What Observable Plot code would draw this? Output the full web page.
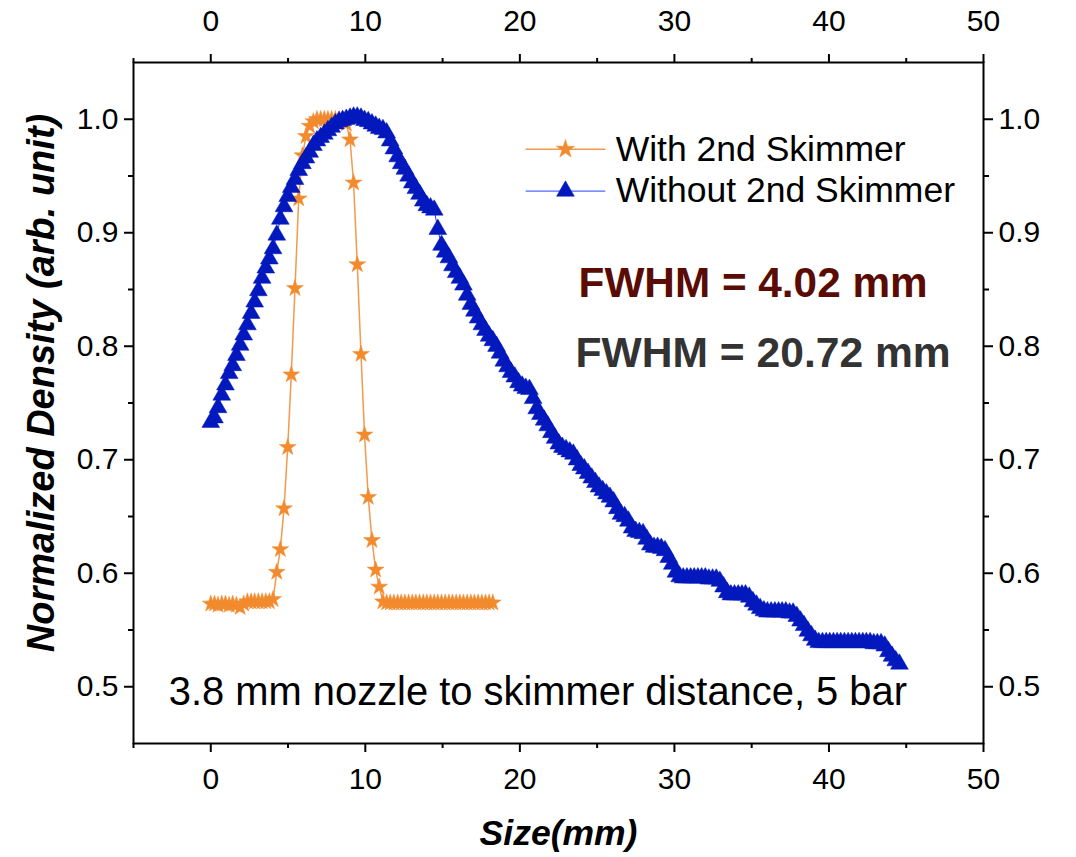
<!DOCTYPE html>
<html>
<head>
<meta charset="utf-8">
<script src="https://cdn.jsdelivr.net/npm/d3@7"></script>
<script src="https://cdn.jsdelivr.net/npm/@observablehq/plot@0.6"></script>
<style>
  html, body { margin: 0; padding: 0; background: #fff; }
  #chart svg { display: block; }
</style>
</head>
<body>
<div id="chart"></div>
<script>
// ---- Data ----
const sizeWith = [0,0.24,0.47,0.71,0.95,1.19,1.42,1.66,1.90,2.13,2.37,2.61,2.84,3.08,3.32,3.56,3.79,4.03,4.27,4.50,4.74,4.98,5.21,5.45,5.69,5.93,6.16,6.40,6.64,6.87,7.11,7.35,7.58,7.82,8.06,8.30,8.53,8.77,9.01,9.24,9.48,9.72,9.95,10.19,10.43,10.67,10.90,11.14,11.38,11.61,11.85,12.09,12.32,12.56,12.80,13.04,13.27,13.51,13.75,13.98,14.22,14.46,14.69,14.93,15.17,15.41,15.64,15.88,16.12,16.35,16.59,16.83,17.06,17.30,17.54,17.78,18.01,18.25];
const densityWith = [0.573,0.573,0.572,0.573,0.573,0.572,0.573,0.572,0.570,0.573,0.575,0.575,0.575,0.575,0.575,0.575,0.575,0.577,0.601,0.621,0.657,0.711,0.775,0.851,0.930,0.968,0.985,0.994,0.998,1.000,1.000,1.000,1.000,1.000,1.000,1.000,0.999,0.996,0.982,0.944,0.872,0.793,0.722,0.667,0.629,0.603,0.588,0.575,0.574,0.574,0.574,0.574,0.574,0.574,0.574,0.574,0.574,0.574,0.574,0.574,0.574,0.574,0.574,0.574,0.574,0.574,0.574,0.574,0.574,0.574,0.574,0.574,0.574,0.574,0.574,0.574,0.574,0.574];

const sizeWithout = [0,0.24,0.47,0.71,0.95,1.19,1.42,1.66,1.90,2.13,2.37,2.61,2.84,3.08,3.32,3.56,3.79,4.03,4.27,4.50,4.74,4.98,5.21,5.45,5.69,5.93,6.16,6.40,6.64,6.87,7.11,7.35,7.58,7.82,8.06,8.30,8.53,8.77,9.01,9.24,9.48,9.72,9.95,10.19,10.43,10.67,10.90,11.14,11.38,11.61,11.85,12.09,12.32,12.56,12.80,13.04,13.27,13.51,13.75,13.98,14.22,14.46,14.69,14.93,15.17,15.41,15.64,15.88,16.12,16.35,16.59,16.83,17.06,17.30,17.54,17.78,18.01,18.25,18.49,18.72,18.96,19.20,19.43,19.67,19.91,20.15,20.38,20.62,20.86,21.09,21.33,21.57,21.80,22.04,22.28,22.52,22.75,22.99,23.23,23.46,23.70,23.94,24.17,24.41,24.65,24.89,25.12,25.36,25.60,25.83,26.07,26.31,26.54,26.78,27.02,27.26,27.49,27.73,27.97,28.20,28.44,28.68,28.91,29.15,29.39,29.63,29.86,30.10,30.34,30.57,30.81,31.05,31.28,31.52,31.76,32.00,32.23,32.47,32.71,32.94,33.18,33.42,33.65,33.89,34.13,34.37,34.60,34.84,35.08,35.31,35.55,35.79,36.02,36.26,36.50,36.74,36.97,37.21,37.45,37.68,37.92,38.16,38.39,38.63,38.87,39.11,39.34,39.58,39.82,40.05,40.29,40.53,40.76,41.00,41.24,41.48,41.71,41.95,42.19,42.42,42.66,42.90,43.13,43.37,43.61,43.85,44.08,44.32,44.56];
const densityWithout = [
  0.733,0.737,0.746,0.757,0.766,0.776,0.783,0.792,0.801,0.810,
  0.819,0.829,0.839,0.849,0.860,0.869,0.877,0.886,0.898,0.912,
  0.923,0.932,0.940,0.947,0.955,0.961,0.966,0.971,0.977,0.981,
  0.984,0.987,0.990,0.993,0.996,0.998,0.999,1.000,1.001,1.002,
  1.002,1.001,0.999,0.998,0.996,0.994,0.992,0.991,0.988,0.981,
  0.974,0.967,0.961,0.956,0.950,0.944,0.939,0.934,0.928,0.924,
  0.922,0.920,0.903,0.889,0.883,0.878,0.871,0.865,0.860,0.854,
  0.845,0.837,0.831,0.825,0.819,0.814,0.809,0.805,0.800,0.794,
  0.787,0.782,0.777,0.773,0.768,0.765,0.763,0.762,0.754,0.745,
  0.740,0.735,0.730,0.724,0.719,0.714,0.711,0.709,0.707,0.705,
  0.700,0.695,0.692,0.688,0.684,0.680,0.676,0.673,0.670,0.667,
  0.663,0.657,0.652,0.650,0.646,0.640,0.637,0.636,0.635,0.630,
  0.625,0.623,0.623,0.622,0.620,0.614,0.608,0.601,0.597,0.596,
  0.596,0.596,0.596,0.596,0.596,0.596,0.595,0.595,0.595,0.593,
  0.588,0.583,0.581,0.581,0.581,0.581,0.581,0.579,0.575,0.572,
  0.569,0.567,0.566,0.566,0.566,0.566,0.566,0.566,0.565,0.565,
  0.562,0.558,0.554,0.549,0.545,0.541,0.539,0.539,0.539,0.539,
  0.539,0.539,0.539,0.539,0.539,0.539,0.539,0.539,0.539,0.539,
  0.539,0.538,0.538,0.538,0.536,0.531,0.527,0.523,0.520];

const seriesNames = ["With 2nd Skimmer", "Without 2nd Skimmer"];
const xMajorTicks = [0, 10, 20, 30, 40, 50];
const xMinorTicks = [-5, 5, 15, 25, 35, 45];
const yMajorTicks = [0.5, 0.6, 0.7, 0.8, 0.9, 1.0];
const yMinorTicks = [0.55, 0.65, 0.75, 0.85, 0.95];
const fwhmLabels = ["FWHM = 4.02 mm", "FWHM = 20.72 mm"];
const conditionLabel = "3.8 mm nozzle to skimmer distance, 5 bar";
const xTitle = "Size(mm)";
const yTitle = "Normalized Density (arb. unit)";

// ---- Build tables ----
const withRows = sizeWith.map((s, i) => ({size: s, density: densityWith[i]}));
const withoutRows = sizeWithout.map((s, i) => ({size: s, density: densityWithout[i]}));

const ORANGE = "#f28a2e", ORANGE_LINE = "#f39a4c";
const BLUE = "#0319bd", BLUE_LINE = "#2440ff";
const FONT = "'Liberation Sans', Arial, Helvetica, sans-serif";

const fmtX = d => String(d);
const fmtY = d => d.toFixed(1);

const chart = Plot.plot({
  width: 1076,
  height: 857,
  marginLeft: 133,
  marginRight: 93,
  marginTop: 62,
  marginBottom: 114,
  style: {fontFamily: FONT, fontSize: "30px", color: "black", background: "white"},
  x: {domain: [-5, 50], label: null},
  y: {domain: [0.45, 1.05], label: null},
  marks: [
    // axes: major + minor ticks on all four sides
    Plot.axisX({anchor: "bottom", ticks: xMajorTicks, tickSize: 9, tickPadding: 15, tickFormat: fmtX, strokeWidth: 2, label: null}),
    Plot.axisX({anchor: "bottom", ticks: xMinorTicks, tickSize: 5, tickFormat: () => "", strokeWidth: 2, label: null}),
    Plot.axisX({anchor: "top", ticks: xMajorTicks, tickSize: 9, tickPadding: 23, tickFormat: fmtX, strokeWidth: 2, label: null}),
    Plot.axisX({anchor: "top", ticks: xMinorTicks, tickSize: 5, tickFormat: () => "", strokeWidth: 2, label: null}),
    Plot.axisY({anchor: "left", ticks: yMajorTicks, tickSize: 9, tickPadding: 6, tickFormat: fmtY, strokeWidth: 2, label: null}),
    Plot.axisY({anchor: "left", ticks: yMinorTicks, tickSize: 5, tickFormat: () => "", strokeWidth: 2, label: null}),
    Plot.axisY({anchor: "right", ticks: yMajorTicks, tickSize: 9, tickPadding: 6, tickFormat: fmtY, strokeWidth: 2, label: null}),
    Plot.axisY({anchor: "right", ticks: yMinorTicks, tickSize: 5, tickFormat: () => "", strokeWidth: 2, label: null}),
    Plot.frame({stroke: "black", strokeWidth: 2}),

    // series: With 2nd Skimmer (orange stars)
    Plot.line(withRows, {x: "size", y: "density", stroke: ORANGE_LINE, strokeWidth: 1.5}),
    Plot.dot(withRows, {x: "size", y: "density", symbol: "star", r: 5.3, fill: ORANGE, stroke: ORANGE, strokeWidth: 0.5}),

    // series: Without 2nd Skimmer (blue triangles)
    Plot.line(withoutRows, {x: "size", y: "density", stroke: BLUE_LINE, strokeWidth: 1}),
    Plot.dot(withoutRows, {x: "size", y: "density", symbol: "triangle", r: 6.6, fill: BLUE, stroke: BLUE, strokeWidth: 0.5}),

    // legend
    Plot.line([{x: 20.4, y: 0.9736}, {x: 25.5, y: 0.9736}], {x: "x", y: "y", stroke: ORANGE_LINE, strokeWidth: 1.5}),
    Plot.dot([{x: 22.95, y: 0.9736}], {x: "x", y: "y", symbol: "star", r: 5.8, fill: ORANGE, stroke: ORANGE, strokeWidth: 0.5}),
    Plot.line([{x: 20.4, y: 0.9367}, {x: 25.5, y: 0.9367}], {x: "x", y: "y", stroke: BLUE_LINE, strokeWidth: 1}),
    Plot.dot([{x: 22.95, y: 0.9367}], {x: "x", y: "y", symbol: "triangle", r: 6.6, fill: BLUE, stroke: BLUE, strokeWidth: 0.5}),
    Plot.text([seriesNames[0]], {x: 26.2, y: 0.9736, text: d => d, textAnchor: "start", lineAnchor: "middle", fontSize: 35.5, fill: "black"}),
    Plot.text([seriesNames[1]], {x: 26.2, y: 0.9367, text: d => d, textAnchor: "start", lineAnchor: "middle", fontSize: 35.5, fill: "black"}),

    // annotations
    Plot.text([fwhmLabels[0]], {x: 23.8, y: 0.855, text: d => d, textAnchor: "start", lineAnchor: "middle", fontSize: 42.3, fontWeight: "bold", fill: "#5a0c04"}),
    Plot.text([fwhmLabels[1]], {x: 23.6, y: 0.794, text: d => d, textAnchor: "start", lineAnchor: "middle", fontSize: 42.6, fontWeight: "bold", fill: "#333333"}),
    Plot.text([conditionLabel], {x: -2.72, y: 0.4956, text: d => d, textAnchor: "start", lineAnchor: "middle", fontSize: 39.9, fill: "black"}),

    // axis titles
    Plot.text([xTitle], {frameAnchor: "bottom", dy: 90, text: d => d, textAnchor: "middle", lineAnchor: "middle", fontSize: 35.5, fontWeight: "bold", fontStyle: "italic", fill: "black"}),
    Plot.text([yTitle], {frameAnchor: "left", dx: -92, dy: -20, rotate: -90, text: d => d, textAnchor: "middle", lineAnchor: "middle", fontSize: 38, fontWeight: "bold", fontStyle: "italic", fill: "black"})
  ]
});

document.getElementById("chart").appendChild(chart);
</script>
</body>
</html>
